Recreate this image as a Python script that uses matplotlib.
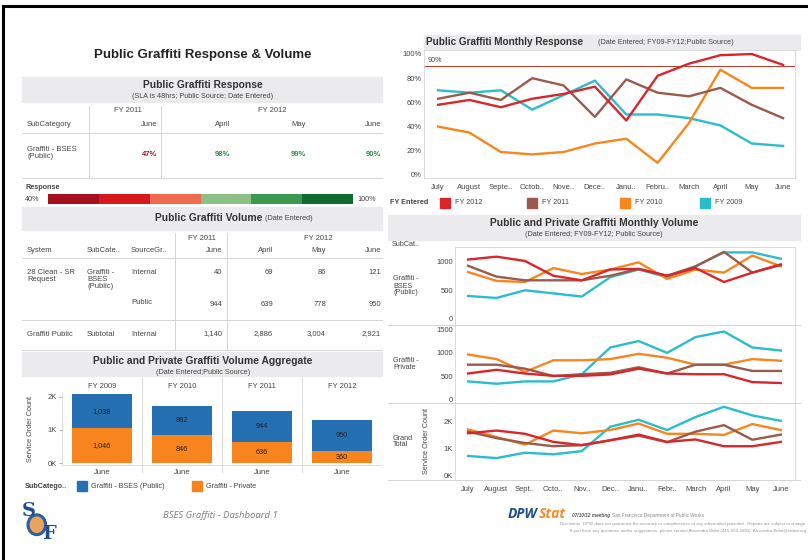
import matplotlib.pyplot as plt
import numpy as np
from matplotlib.patches import Rectangle, Circle
from matplotlib.lines import Line2D

plt.rcParams['font.family'] = ['Liberation Sans', 'DejaVu Sans']

# ---- data ----
months = ['July', 'August', 'Septe..', 'Octob..', 'Nove..', 'Dece..', 'Janu..',
          'Febru..', 'March', 'April', 'May', 'June']
months_short = ['July', 'August', 'Sept..', 'Octo..', 'Nov..', 'Dec..', 'Janu..',
                'Febr..', 'March', 'April', 'May', 'June']
fy_names = ['FY 2012', 'FY 2011', 'FY 2010', 'FY 2009']

resp_fy12 = [58, 62, 56, 63, 67, 73, 45, 82, 92, 99, 100, 91]
resp_fy11 = [63, 68, 62, 80, 74, 48, 79, 68, 65, 72, 58, 47]
resp_fy10 = [40, 35, 19, 17, 19, 26, 30, 10, 43, 87, 72, 72]
resp_fy09 = [70, 68, 70, 54, 66, 78, 50, 50, 47, 41, 26, 24]

pub_fy12 = [1040, 1090, 1015, 755, 675, 865, 875, 755, 890, 645, 810, 955]
pub_fy11 = [930, 740, 675, 675, 675, 755, 875, 755, 920, 1175, 810, 945]
pub_fy10 = [820, 665, 645, 890, 785, 865, 990, 700, 865, 810, 1110, 920]
pub_fy09 = [400, 365, 500, 445, 390, 730, 865, 730, 920, 1165, 1165, 1055]

priv_fy12 = [555, 635, 555, 505, 505, 535, 660, 555, 540, 540, 370, 350]
priv_fy11 = [745, 745, 660, 500, 540, 570, 690, 555, 745, 745, 610, 610]
priv_fy10 = [965, 865, 590, 840, 840, 865, 980, 895, 745, 745, 865, 830]
priv_fy09 = [385, 335, 385, 385, 540, 1115, 1255, 1000, 1340, 1460, 1115, 1050]

tot_fy12 = [1580, 1680, 1560, 1260, 1140, 1320, 1530, 1260, 1350, 1100, 1100, 1260]
tot_fy11 = [1640, 1400, 1220, 1100, 1140, 1320, 1490, 1250, 1640, 1880, 1340, 1530]
tot_fy10 = [1720, 1440, 1160, 1680, 1580, 1700, 1940, 1560, 1560, 1520, 1920, 1700]
tot_fy09 = [740, 660, 860, 800, 920, 1820, 2080, 1700, 2180, 2560, 2240, 2040]

agg_years = ['FY 2009', 'FY 2010', 'FY 2011', 'FY 2012']
agg_public = [1038, 882, 944, 950]
agg_private = [1046, 846, 636, 360]

resp_cols = ['June', 'April', 'May', 'June']
resp_vals = [47, 98, 99, 90]
vol_internal = [40, 69, 86, 121]
vol_public = [944, 639, 778, 950]
vol_subtotal = [1140, 2886, 3004, 2921]

fy_colors = ['#d9262b', '#9a5a4e', '#f7861e', '#2bbdcc']
blue, orange = '#2470b3', '#f7841c'
band_col = '#ebebee'
grid_col = '#d4d4d4'
SMALL = 5.5
TINY = 5.2

W, H = 808, 560
fig = plt.figure(figsize=(W / 100, H / 100), dpi=100)


def ax_px(x0, y0, x1, y1):
    return fig.add_axes([x0 / W, 1 - y1 / H, (x1 - x0) / W, (y1 - y0) / H])


def txt(x, y, s, **kw):
    kw.setdefault('va', 'center')
    kw.setdefault('fontsize', SMALL)
    kw.setdefault('color', '#444444')
    return fig.text(x / W, 1 - y / H, s, **kw)


def band(x0, y0, x1, y1, color=band_col):
    fig.add_artist(Rectangle((x0 / W, 1 - y1 / H), (x1 - x0) / W, (y1 - y0) / H,
                             transform=fig.transFigure, color=color, zorder=0))


def line(x0, y0, x1, y1, color=grid_col, lw=0.7):
    fig.add_artist(Line2D([x0 / W, x1 / W], [1 - y0 / H, 1 - y1 / H],
                          transform=fig.transFigure, color=color, lw=lw))


def style_ax(ax):
    for s in ax.spines.values():
        s.set_color(grid_col)
        s.set_linewidth(0.6)
    ax.tick_params(length=2, width=0.5, color='#999999', labelsize=SMALL,
                   labelcolor='#444444', pad=1.5)


# frame
line(3, 6, 808, 6, color='black', lw=2.2)
line(3, 6, 3, 560, color='black', lw=2.2)

# ---- left column ----
txt(203, 55, 'Public Graffiti Response & Volume', fontsize=9.5, fontweight='bold',
    ha='center', color='#222222')

band(22, 77, 382, 102)
txt(203, 85, 'Public Graffiti Response', fontsize=7.4, fontweight='bold', ha='center', color='#333333')
txt(203, 97, '(SLA is 48hrs; Public Source; Date Entered)', fontsize=TINY, ha='center')

txt(128, 111, 'FY 2011', ha='center')
txt(272, 111, 'FY 2012', ha='center')
txt(27, 124, 'SubCategory')
line(89, 106, 89, 178)
line(161, 106, 161, 178)
line(22, 133, 382, 133)
line(22, 178, 382, 178)
resp_x = [157, 230, 306, 381]
resp_colors = ['#a8182b', '#2e8b47', '#2e8b47', '#2e8b47']
txt(27, 153, 'Graffiti - BSES\n(Public)', linespacing=1.0)
for xc, lab, v, c in zip(resp_x, resp_cols, resp_vals, resp_colors):
    txt(xc, 124, lab, ha='right')
    txt(xc, 155, f'{v}%', ha='right', color=c, fontweight='bold')

# response colour scale
txt(25, 188, 'Response', fontsize=TINY, fontweight='bold')
txt(25, 199, '40%', fontsize=TINY)
txt(357, 199, '100%', fontsize=TINY)
scale_cols = ['#a50f1f', '#d7191c', '#ef6a4e', '#8cc084', '#3a9a52', '#0f6b30']
cax = ax_px(48, 194, 353, 204)
cax.barh([0] * 6, [1] * 6, left=np.arange(6), color=scale_cols, height=1)
cax.set_xlim(0, 6)
cax.set_ylim(-0.5, 0.5)
cax.axis('off')

# volume table
band(22, 207, 382, 230)
txt(262, 218, 'Public Graffiti Volume', fontsize=7.4, fontweight='bold', ha='right', color='#333333')
txt(265, 219, '(Date Entered)', fontsize=TINY)
txt(202, 239, 'FY 2011', ha='center')
txt(318, 239, 'FY 2012', ha='center')
line(175, 233, 175, 350)
line(227, 233, 227, 350)
line(22, 258, 382, 258)
line(22, 320, 382, 320)
line(22, 350, 382, 350)
txt(27, 250, 'System')
txt(87, 250, 'SubCate..')
txt(131, 250, 'SourceGr..')
vol_x = [222, 273, 326, 381]
for xc, lab in zip(vol_x, resp_cols):
    txt(xc, 250, lab, ha='right')
txt(27, 269, '28 Clean - SR\nRequest', linespacing=1.0, va='top')
txt(87, 269, 'Graffiti -\nBSES\n(Public)', linespacing=1.0, va='top')
txt(131, 273, 'Internal')
txt(131, 302, 'Public')
txt(27, 334, 'Graffiti Public')
txt(87, 334, 'Subtotal')
txt(131, 334, 'Internal')
for xc, a, b, c in zip(vol_x, vol_internal, vol_public, vol_subtotal):
    txt(xc, 273, f'{a:,}', ha='right')
    txt(xc, 304, f'{b:,}', ha='right')
    txt(xc, 334, f'{c:,}', ha='right')

# aggregate bars
band(22, 352, 382, 376)
txt(203, 361, 'Public and Private Graffiti Volume Aggregate', fontsize=7.4, fontweight='bold',
    ha='center', color='#333333')
txt(203, 372, '(Date Entered;Public Source)', fontsize=TINY, ha='center')
bax = ax_px(62, 393, 382, 465)
xb = np.arange(len(agg_years))
bax.bar(xb, agg_private, width=0.75, color=orange)
bax.bar(xb, agg_public, width=0.75, bottom=agg_private, color=blue)
for i in range(len(agg_years)):
    bax.text(i, agg_private[i] / 2, f'{agg_private[i]:,}', ha='center', va='center',
             fontsize=TINY, color='#222222')
    bax.text(i, agg_private[i] + agg_public[i] / 2, f'{agg_public[i]:,}', ha='center',
             va='center', fontsize=TINY, color='#222222')
    bax.text(i, 1.09, agg_years[i], transform=bax.get_xaxis_transform(), ha='center',
             va='center', fontsize=SMALL, color='#444444')
for sep in [0.5, 1.5, 2.5]:
    bax.axvline(sep, color=grid_col, lw=0.6, ymin=-0.1, ymax=1.22, clip_on=False)
bax.set_xlim(-0.5, 3.5)
bax.set_ylim(-60, 2120)
bax.set_yticks([0, 1000, 2000])
bax.set_yticklabels(['0K', '1K', '2K'])
bax.set_xticks(xb)
bax.set_xticklabels(['June'] * 4)
style_ax(bax)
bax.spines['top'].set_visible(False)
bax.spines['right'].set_visible(False)
bax.tick_params(axis='x', length=0, pad=3)
bax.set_ylabel('Service Order Count', fontsize=TINY, color='#444444', labelpad=10)

txt(25, 486, 'SubCatego..', fontsize=TINY, fontweight='bold')
band(77, 481, 87, 491, color=blue)
txt(91, 486, 'Graffiti - BSES (Public)', fontsize=TINY)
band(192, 481, 202, 491, color=orange)
txt(206, 486, 'Graffiti - Private', fontsize=TINY)

# ---- right column: monthly response ----
band(424, 35, 800, 50)
txt(426, 42, 'Public Graffiti Monthly Response', fontsize=7.2, fontweight='bold', color='#333333')
txt(598, 43, '(Date Entered; FY09-FY12;Public Source)', fontsize=TINY)
rax = ax_px(424, 50, 795, 178)
xm = np.arange(12)
for vals, c in zip([resp_fy09, resp_fy10, resp_fy11, resp_fy12], fy_colors[::-1]):
    rax.plot(xm, vals, color=c, lw=1.7)
rax.axhline(90, color='#c0392b', lw=0.7)
rax.text(-0.35, 94.5, '90%', fontsize=TINY, color='#444444', va='center')
rax.set_xlim(-0.45, 11.38)
rax.set_ylim(-2.5, 103.3)
rax.set_yticks([0, 20, 40, 60, 80, 100])
rax.set_yticklabels([f'{v}%' for v in [0, 20, 40, 60, 80, 100]])
rax.set_xticks(xm)
rax.set_xticklabels(months)
style_ax(rax)
rax.tick_params(axis='x', length=0, pad=4)
rax.tick_params(axis='y', length=0)

txt(390, 203, 'FY Entered', fontsize=TINY, fontweight='bold')
for xs, name, c in zip([440, 527, 620, 700], fy_names, fy_colors):
    band(xs, 198, xs + 10, 208, color=c)
    txt(xs + 15, 203, name, fontsize=TINY)

# ---- right column: monthly volume ----
band(388, 215, 800, 240)
txt(594, 223, 'Public and Private Graffiti Monthly Volume', fontsize=7.4, fontweight='bold',
    ha='center', color='#333333')
txt(594, 234, '(Date Entered; FY09-FY12; Public Source)', fontsize=TINY, ha='center')
txt(392, 245, 'SubCat..', fontsize=TINY)

panels = [
    (247, 325, [pub_fy09, pub_fy10, pub_fy11, pub_fy12], (-110, 1260), [0, 500, 1000],
     ['0', '500', '1000'], 'Graffiti -\nBSES\n(Public)'),
    (325, 403, [priv_fy09, priv_fy10, priv_fy11, priv_fy12], (-80, 1600), [0, 500, 1000, 1500],
     ['0', '500', '1000', '1500'], 'Graffiti -\nPrivate'),
    (403, 480, [tot_fy09, tot_fy10, tot_fy11, tot_fy12], (-150, 2700), [0, 1000, 2000],
     ['0K', '1K', '2K'], 'Grand\nTotal'),
]
for k, (y0, y1, series, ylim, ticks, labels, rowlab) in enumerate(panels):
    vax = ax_px(455, y0, 795, y1)
    for vals, c in zip(series, fy_colors[::-1]):
        vax.plot(xm, vals, color=c, lw=1.7)
    vax.set_xlim(-0.46, 11.5)
    vax.set_ylim(*ylim)
    vax.set_yticks(ticks)
    vax.set_yticklabels(labels)
    style_ax(vax)
    vax.tick_params(axis='y', length=0)
    vax.set_xticks(xm)
    if k < 2:
        vax.tick_params(axis='x', length=0, labelbottom=False)
    else:
        vax.set_xticklabels(months_short)
        vax.tick_params(axis='x', length=0, pad=4)
    line(388, y1, 800, y1)
    txt(393, (y0 + y1) / 2, rowlab, fontsize=TINY, linespacing=1.0)
txt(427, 441, 'Service Order Count', fontsize=TINY, rotation=90, ha='center')

# ---- footer ----
logo = ax_px(18, 500, 58, 545)
logo.set_xlim(0, 1)
logo.set_ylim(0, 1)
logo.axis('off')
logo.add_patch(Circle((0.47, 0.45), 0.22, facecolor='#e9a35b', edgecolor='#2c5f9e', lw=2.2))
logo.text(0.28, 0.75, 'S', fontsize=14, fontweight='bold', color='#1f4e8c', ha='center',
          va='center', family='DejaVu Serif')
logo.text(0.78, 0.25, 'F', fontsize=14, fontweight='bold', color='#1f4e8c', ha='center',
          va='center', family='DejaVu Serif')

txt(220, 516, 'BSES Graffiti - Dashboard 1', fontsize=6.8, style='italic', ha='center',
    color='#7a7a7a', family=['Open Sans', 'DejaVu Sans'])
dpw = txt(508, 514, 'DPW', fontsize=10, fontweight='bold', style='italic', color='#1f4e8c',
          family=['Open Sans', 'DejaVu Sans'])
renderer = fig.canvas.get_renderer()
dpw_right = dpw.get_window_extent(renderer).x1
txt(dpw_right + 0.5, 514, 'Stat', fontsize=10, fontweight='bold', style='italic', color='#f28c28',
    family=['Open Sans', 'DejaVu Sans'])
txt(572, 515, '07/10/12 meeting', fontsize=3.4, fontweight='bold', style='italic',
    color='#555555')
txt(612, 515, 'San Francisco Department of Public Works', fontsize=3.4, color='#888888')
txt(806, 524, 'Disclaimer: DPW does not guarantee the accuracy or completeness of any information '
    'provided.  Reports are subject to change.', fontsize=3.2, color='#999999', ha='right')
txt(806, 531, 'If you have any questions and/or suggestions, please contact Alexandra Bidot '
    '(415-554-6883)  Alexandra.Bidot@sfdpw.org', fontsize=3.2, color='#999999', ha='right')

fig.savefig('out.png', dpi=100)
